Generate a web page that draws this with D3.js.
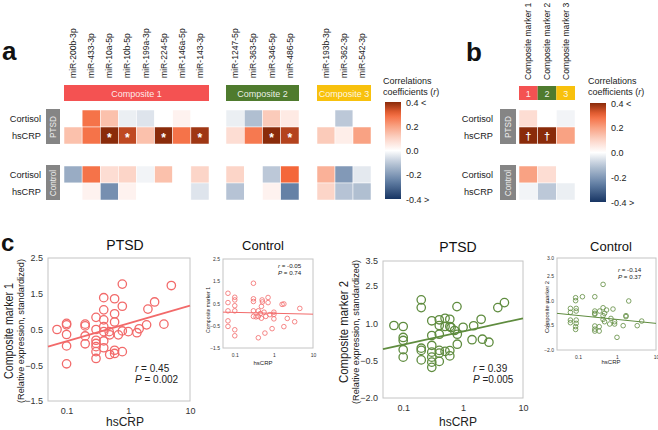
<!DOCTYPE html>
<html><head><meta charset="utf-8">
<script src="https://cdn.jsdelivr.net/npm/d3@7/dist/d3.min.js"></script>
<style>body{margin:0;background:#fff} svg{display:block;font-family:"Liberation Sans",Arial,sans-serif}</style>
</head><body><svg id="c" width="658" height="430"></svg>
<script>
// ---------------- DATA ----------------
const c1Genes = ['miR-200b-3p','miR-433-3p','miR-10a-5p','miR-10b-5p','miR-199a-3p','miR-224-5p','miR-146a-5p','miR-143-3p'];
const c2Genes = ['miR-1247-5p','miR-363-5p','miR-346-5p','miR-486-5p'];
const c3Genes = ['miR-193b-3p','miR-362-3p','miR-542-3p'];
const compositeNames = ['Composite 1','Composite 2','Composite 3'];
const rowNames = ['Cortisol','hsCRP'];
const groupNames = ['PTSD','Control'];
// panel a correlations (order: c1, c2, c3 genes)
const ptsdCortisol = [0, 0.28, 0.14, -0.03, -0.05, 0, 0.03, 0,   -0.03, -0.12, 0.12, 0.05,   0, -0.1, 0];
const ptsdHsCRP    = [0.14, 0.28, 0.42, 0.35, 0.14, 0.42, 0.28, 0.38,   0.08, 0.27, 0.42, 0.36,   0.12, 0.04, 0.2];
const ptsdHsCRPSig = [0,0,1,1,0,1,0,1, 0,0,1,1, 0,0,0];
const ctrlCortisol = [-0.16, 0.28, 0.08, 0.1, -0.02, 0.14, 0, 0.1,   0.1, 0, -0.1, 0.3,   0.17, -0.2, -0.04];
const ctrlHsCRP    = [0, 0.03, -0.22, 0.03, 0, 0, 0, -0.05,   -0.11, 0, 0.03, -0.25,   0.1, -0.11, -0.12];
// panel b
const markerNames = ['Composite marker 1','Composite marker 2','Composite marker 3'];
const markerShort = ['1','2','3'];
const bPtsdCortisol = [0.08, 0, -0.02];
const bPtsdHsCRP    = [0.42, 0.42, 0.2];
const bPtsdHsCRPSig = [1, 1, 0];
const bCtrlCortisol = [0.2, 0.08, 0];
const bCtrlHsCRP    = [-0.02, -0.1, -0.03];
const legendTicks = [0.4, 0.2, 0.0, -0.2, -0.4];
const legendLabels = ['0.4 <', '0.2', '0.0', '-0.2', '-0.4 >'];
// panel c scatter data
const ptsdC1x = [0.07,0.1,0.1,0.1,0.1,0.1,0.2,0.2,0.2,0.2,0.3,0.3,0.3,0.3,0.3,0.3,0.3,0.4,0.4,0.4,0.4,0.4,0.4,0.4,0.49,0.5,0.5,0.6,0.6,0.6,0.6,0.6,0.69,0.8,0.8,0.8,0.8,1.0,1.38,1.5,1.98,2.08,2.67,3.78,4.98];
const ptsdC1y = [0.50,0.67,0.63,0.36,0.04,-0.46,0.65,0.60,0.32,0.10,0.84,0.50,0.20,0.11,0.02,-0.12,-0.31,1.39,1.05,0.77,0.58,0.44,0.18,-0.01,0.44,0.35,-0.20,1.36,0.94,0.71,-0.08,-0.17,0.35,1.77,1.15,0.46,-0.12,0.44,0.41,0.52,0.63,1.07,1.27,0.65,1.73];
const ptsdC1Fit = [0.67, 0.50]; // intercept, slope vs log10(hsCRP)
const ctrlC1x = [0.067,0.067,0.067,0.067,0.067,0.1,0.1,0.1,0.1,0.1,0.1,0.3,0.3,0.3,0.3,0.3,0.4,0.4,0.4,0.48,0.48,0.51,0.5,0.56,0.59,0.62,0.71,0.71,0.79,0.9,1.0,1.0,1.0,1.62,1.8,2.2,1.8,3.4,4.6,0.35,0.45];
const ctrlC1y = [0.96,0.54,0.17,-0.28,-0.53,0.78,0.66,0.40,0.17,-0.68,-0.95,1.41,0.71,0.59,0.17,-0.08,-1.04,0.17,-0.08,0.37,-0.16,0.57,0.66,0.11,-0.83,-0.08,0.77,0.54,0.0,-0.63,0.11,-0.19,0.01,0.46,0.48,-0.17,-0.54,-0.32,0.28,-0.1,0.05];
const ctrlC1Fit = [0.06, -0.04];
const ptsdC2x = [0.07,0.1,0.1,0.1,0.1,0.1,0.2,0.2,0.2,0.2,0.2,0.3,0.3,0.3,0.3,0.3,0.3,0.3,0.4,0.4,0.4,0.4,0.4,0.4,0.5,0.5,0.5,0.6,0.6,0.6,0.6,0.63,0.72,0.79,0.8,0.8,1.0,1.41,1.5,2.0,2.1,2.7,3.8,4.9];
const ptsdC2y = [0.91,0.87,0.43,0.31,-0.06,-0.36,1.94,1.63,0.0,-0.09,-0.47,1.10,0.51,0.11,-0.16,-0.36,-0.56,-0.77,1.14,0.91,0.56,-0.09,-0.20,-0.53,1.20,0.87,-0.13,1.16,0.87,-0.10,-0.31,0.83,0.71,1.67,0.56,0.16,0.84,0.34,0.90,1.16,0.36,0.24,1.63,1.83];
const ptsdC2Fit = [0.67, 0.53];
const ctrlC2x = [0.064,0.064,0.064,0.064,0.087,0.087,0.09,0.09,0.09,0.09,0.087,0.087,0.13,0.27,0.27,0.27,0.27,0.27,0.27,0.27,0.35,0.35,0.36,0.44,0.44,0.44,0.44,0.48,0.48,0.54,0.65,0.7,0.79,0.87,0.87,1.0,1.44,1.7,1.7,2.0,3.3,4.3];
const ctrlC2y = [0.53,0.29,-0.18,-0.34,1.18,1.0,0.53,0.37,-0.18,-0.38,-0.58,-0.75,1.24,1.24,0.37,0.23,0.17,-0.54,-0.73,-0.85,-0.58,-0.85,0.37,1.99,0.57,0.09,-0.14,-0.28,0.23,0.43,-0.42,-0.08,0.49,-0.42,-0.28,-1.23,-0.52,0.09,0.03,0.98,-0.52,-0.24];
const ctrlC2Fit = [-0.14, -0.24];
const xTicks = [0.1, 1, 10];
const yTicksC1 = [-1.5, -0.5, 0.5, 1.5, 2.5];
const yTicksC2 = [-2.0, -0.5, 1.0, 2.5, 3.5];
const yTicksC2ctrl = [-2.0, -0.5, 1.0, 2.5, 3.0];
const statsText = [['0.45','= 0.002'],['-0.05','= 0.74'],['0.39','=0.005'],['-0.14','= 0.37']];

// ---------------- DRAW ----------------
const svg = d3.select('#c');
const heatColor = d3.scaleLinear()
  .domain([-0.4,-0.25,-0.1,0,0.1,0.2,0.3,0.4])
  .range(['#173563','#6581a6','#bcc8d8','#ffffff','#fcd5c8','#f9a283','#f4673a','#8a2b0a'])
  .clamp(true);
const compColors = ['#f45252','#4f7b2e','#f8c10d'];
const grayBox = '#858585';

function letter(t, x, y, size){
  svg.append('text').attr('x',x).attr('y',y).attr('font-size',size).attr('font-weight','bold').attr('fill','#111').text(t);
}
letter('a', 2, 60, 26);
letter('b', 466, 61, 26);
letter('c', 1, 251, 24);

// ----- panel a -----
const allGenes = [c1Genes, c2Genes, c3Genes];
const groupRanges = [[64,209],[226,299],[317,371]];
const xBands = allGenes.map((g,i)=>d3.scaleBand().domain(g).range(groupRanges[i]));
const geneX = [];
allGenes.forEach((g,i)=>g.forEach(n=>geneX.push({name:n, x:xBands[i](n), w:xBands[i].bandwidth()})));

const rowBandsA = [d3.scaleBand().domain(rowNames).range([110,144]), d3.scaleBand().domain(rowNames).range([166,200])];

function groupLabels(xRight, boxX, boxW, bands){
  bands.forEach((band,gi)=>{
    rowNames.forEach(r=>{
      svg.append('text').attr('x',xRight).attr('y',band(r)+band.bandwidth()/2+3.2)
        .attr('text-anchor','end').attr('font-size',9.2).attr('fill','#222').text(r);
    });
    const [y0,y1] = band.range();
    svg.append('rect').attr('x',boxX).attr('y',y0-1).attr('width',boxW).attr('height',y1-y0+1).attr('fill',grayBox);
    svg.append('text').attr('transform',`translate(${boxX+boxW/2+3},${(y0+y1)/2}) rotate(-90)`)
      .attr('text-anchor','middle').attr('font-size',8.2).attr('fill','#eee').text(groupNames[gi]);
  });
}
groupLabels(41, 46, 14, rowBandsA);

// column labels
geneX.forEach(d=>{
  svg.append('text').attr('transform',`translate(${d.x+d.w/2+3},78) rotate(-90)`)
    .attr('font-size',8.6).attr('fill','#222').text(d.name);
});
// composite bars
groupRanges.forEach((r,i)=>{
  svg.append('rect').attr('x',r[0]).attr('y',85).attr('width',r[1]-r[0]).attr('height',16).attr('fill',compColors[i]);
  svg.append('text').attr('x',(r[0]+r[1])/2).attr('y',96.5).attr('text-anchor','middle')
    .attr('font-size',9).attr('fill','#fff').attr('fill-opacity',0.9).text(compositeNames[i]);
});
// cells
const heatRowsA = [[ptsdCortisol, ptsdHsCRP],[ctrlCortisol, ctrlHsCRP]];
heatRowsA.forEach((rows,gi)=>{
  rows.forEach((vals,ri)=>{
    const band = rowBandsA[gi];
    vals.forEach((v,ci)=>{
      const g = geneX[ci];
      svg.append('rect').attr('x',g.x).attr('y',band(rowNames[ri])).attr('width',g.w).attr('height',band.bandwidth())
        .attr('fill',heatColor(v)).attr('stroke','#fff').attr('stroke-width',0.5);
    });
  });
});
ptsdHsCRPSig.forEach((s,ci)=>{
  if(!s) return;
  const g = geneX[ci];
  svg.append('text').attr('x',g.x+g.w/2).attr('y',rowBandsA[0]('hsCRP')+rowBandsA[0].bandwidth()/2+6)
    .attr('text-anchor','middle').attr('font-size',12).attr('font-weight','bold').attr('fill','#fff').text('*');
});

// legend
function legend(x, yTop, yBot, id){
  const tx = x-2;
  svg.append('text').attr('x',tx).attr('y',84).attr('font-size',9).attr('fill','#222').text('Correlations');
  const t2 = svg.append('text').attr('x',tx).attr('y',95).attr('font-size',9).attr('fill','#222');
  t2.append('tspan').text('coefficients (');
  t2.append('tspan').attr('font-style','italic').text('r');
  t2.append('tspan').text(')');
  const ly = d3.scaleLinear().domain([0.4,-0.4]).range([yTop,yBot]);
  const grad = svg.append('defs').append('linearGradient').attr('id',id).attr('x1',0).attr('y1',0).attr('x2',0).attr('y2',1);
  d3.range(0,21).forEach(i=>{
    const v = 0.4 - i*0.04;
    grad.append('stop').attr('offset',(i/20)).attr('stop-color',heatColor(v));
  });
  svg.append('rect').attr('x',x).attr('y',yTop).attr('width',16).attr('height',yBot-yTop).attr('fill',`url(#${id})`);
  legendTicks.forEach((v,i)=>{
    svg.append('text').attr('x',x+21).attr('y',ly(v)+3.5).attr('font-size',9).attr('fill','#222').text(legendLabels[i]);
  });
}
legend(385, 102, 199, 'ga');
legend(590, 103, 202, 'gb');

// ----- panel b -----
const bx = d3.scaleBand().domain(markerNames).range([519,575]);
const rowBandsB = [d3.scaleBand().domain(rowNames).range([110,144]), d3.scaleBand().domain(rowNames).range([166,200])];
groupLabels(493, 500, 16, rowBandsB);
markerNames.forEach((m,i)=>{
  svg.append('text').attr('transform',`translate(${bx(m)+bx.bandwidth()/2+3},80) rotate(-90)`)
    .attr('font-size',8.6).attr('fill','#222').text(m);
  svg.append('rect').attr('x',bx(m)).attr('y',86).attr('width',bx.bandwidth()).attr('height',14).attr('fill',compColors[i]);
  svg.append('text').attr('x',bx(m)+bx.bandwidth()/2).attr('y',96.5).attr('text-anchor','middle')
    .attr('font-size',9).attr('fill','#fff').attr('fill-opacity',0.9).text(markerShort[i]);
});
const heatRowsB = [[bPtsdCortisol, bPtsdHsCRP],[bCtrlCortisol, bCtrlHsCRP]];
heatRowsB.forEach((rows,gi)=>{
  rows.forEach((vals,ri)=>{
    const band = rowBandsB[gi];
    vals.forEach((v,ci)=>{
      svg.append('rect').attr('x',bx(markerNames[ci])).attr('y',band(rowNames[ri])).attr('width',bx.bandwidth()).attr('height',band.bandwidth())
        .attr('fill',heatColor(v)).attr('stroke','#fff').attr('stroke-width',0.5);
    });
  });
});
bPtsdHsCRPSig.forEach((s,ci)=>{
  if(!s) return;
  svg.append('text').attr('x',bx(markerNames[ci])+bx.bandwidth()/2).attr('y',rowBandsB[0]('hsCRP')+rowBandsB[0].bandwidth()/2+4.5)
    .attr('text-anchor','middle').attr('font-size',11).attr('font-weight','bold').attr('fill','#fff').text('\u2020');
});

// ----- panel c -----
function scatter(o){
  const x = d3.scaleLog().domain(o.xDom).range([o.x0,o.x1]);
  const y = d3.scaleLinear().domain(o.yDom).range(o.yRange);
  const g = svg.append('g');
  g.append('rect').attr('x',o.x0).attr('y',o.yTop).attr('width',o.x1-o.x0).attr('height',o.yBot-o.yTop)
    .attr('fill','none').attr('stroke','#c4c4c4').attr('stroke-width',1);
  const ya = g.append('g').attr('transform',`translate(${o.x0},0)`)
    .call(d3.axisLeft(y).tickValues(o.yTicks).tickFormat(d3.format('.1f')).tickSize(0).tickPadding(o.pad));
  ya.select('.domain').remove();
  ya.selectAll('text').attr('font-size',o.tick).attr('fill','#333').attr('font-family','"Liberation Sans",Arial,sans-serif');
  const xa = g.append('g').attr('transform',`translate(0,${o.yBot})`)
    .call(d3.axisBottom(x).tickValues(xTicks).tickFormat(d=>String(d)).tickSize(0).tickPadding(o.xpad));
  xa.select('.domain').remove();
  xa.selectAll('text').attr('font-size',o.tick).attr('fill','#333').attr('font-family','"Liberation Sans",Arial,sans-serif');
  // fit line
  const xs = x.domain();
  const lineData = xs.map(v=>[v, o.fit[0] + o.fit[1]*Math.log10(v)]);
  g.append('path').datum(lineData).attr('d', d3.line().x(d=>x(d[0])).y(d=>y(d[1])))
    .attr('stroke',o.color).attr('stroke-width',o.lw).attr('fill','none');
  g.selectAll('circle.p').data(o.xs.map((v,i)=>[v,o.ys[i]])).enter().append('circle')
    .attr('cx',d=>x(d[0])).attr('cy',d=>y(d[1])).attr('r',o.r)
    .attr('fill','none').attr('stroke',o.color).attr('stroke-width',o.sw);
  // titles
  g.append('text').attr('x',o.titleX).attr('y',o.titleY).attr('text-anchor','middle').attr('font-size',o.titleSize).attr('fill','#111').text(o.title);
  g.append('text').attr('x',o.titleX).attr('y',o.xlabY).attr('text-anchor','middle').attr('font-size',o.xlabSize).attr('fill','#222').text('hsCRP');
  g.append('text').attr('transform',`translate(${o.ylabX},${o.ylabY}) rotate(-90)`).attr('text-anchor','middle')
    .attr('font-size',o.ylabSize).attr('fill','#222').attr('textLength',o.ylabLen).attr('lengthAdjust','spacingAndGlyphs').text(o.ylab);
  if(o.ylab2){
    g.append('text').attr('transform',`translate(${o.ylab2X},${o.ylabY}) rotate(-90)`).attr('text-anchor','middle')
      .attr('font-size',o.ylab2Size).attr('fill','#222').text(o.ylab2);
  }
  const s1 = g.append('text').attr('x',o.statX).attr('y',o.statY).attr('font-size',o.statSize).attr('fill','#222');
  s1.append('tspan').attr('font-style','italic').text('r');
  s1.append('tspan').text(' = '+o.stats[0]);
  const s2 = g.append('text').attr('x',o.statX).attr('y',o.statY+o.statGap).attr('font-size',o.statSize).attr('fill','#222');
  s2.append('tspan').attr('font-style','italic').text('P');
  s2.append('tspan').text(' '+o.stats[1]);
}
const red = '#f26a6a', green = '#5f8c3f';
scatter({x0:48,x1:190,yTop:258,yBot:401,xDom:[0.05,10],yDom:[-1.5,2.5],yRange:[401,258],yTicks:yTicksC1,
  xs:ptsdC1x,ys:ptsdC1y,fit:ptsdC1Fit,color:red,r:4.2,sw:1.3,lw:1.8,tick:9,pad:5,xpad:7,
  title:'PTSD',titleX:125,titleY:250,titleSize:14,xlabY:426,xlabSize:12,
  ylab:'Composite marker 1',ylabX:13,ylabY:331,ylabSize:12,ylabLen:96,ylab2:'(Relative expression, standardized)',ylab2X:24,ylab2Size:9.2,
  stats:statsText[0],statX:135,statY:372,statSize:10,statGap:11});
scatter({x0:223,x1:313,yTop:259,yBot:348,xDom:[0.05,10],yDom:[-1.5,2.5],yRange:[348,259],yTicks:yTicksC1,
  xs:ctrlC1x,ys:ctrlC1y,fit:ctrlC1Fit,color:red,r:2.3,sw:0.8,lw:1,tick:5,pad:3,xpad:5,
  title:'Control',titleX:263,titleY:250,titleSize:13,xlabY:365,xlabSize:6,
  ylab:'Composite marker 1',ylabX:209.5,ylabY:310,ylabSize:6,ylabLen:46,
  stats:statsText[1],statX:278,statY:268,statSize:6.2,statGap:7});
scatter({x0:383,x1:523,yTop:261,yBot:398,xDom:[0.046,10],yDom:[-2,3.5],yRange:[398,261],yTicks:yTicksC2,
  xs:ptsdC2x,ys:ptsdC2y,fit:ptsdC2Fit,color:green,r:4.2,sw:1.3,lw:1.8,tick:9,pad:5,xpad:7,
  title:'PTSD',titleX:458,titleY:252,titleSize:14,xlabY:426,xlabSize:12,
  ylab:'Composite marker 2',ylabX:348,ylabY:332,ylabSize:12,ylabLen:102,ylab2:'(Relative expression, standardized)',ylab2X:359,ylab2Size:9.2,
  stats:statsText[2],statX:473,statY:372,statSize:10,statGap:11});
scatter({x0:557,x1:656,yTop:258,yBot:350,xDom:[0.029,10],yDom:[-2,2.5,3.0],yRange:[350,276,258],yTicks:yTicksC2ctrl,
  xs:ctrlC2x,ys:ctrlC2y,fit:ctrlC2Fit,color:green,r:2.3,sw:0.8,lw:1,tick:5,pad:3,xpad:5,
  title:'Control',titleX:611,titleY:251,titleSize:13,xlabY:364,xlabSize:6,
  ylab:'Composite marker 2',ylabX:548.5,ylabY:307,ylabSize:6,ylabLen:52,
  stats:statsText[3],statX:618,statY:272,statSize:6.2,statGap:7});
</script></body></html>
